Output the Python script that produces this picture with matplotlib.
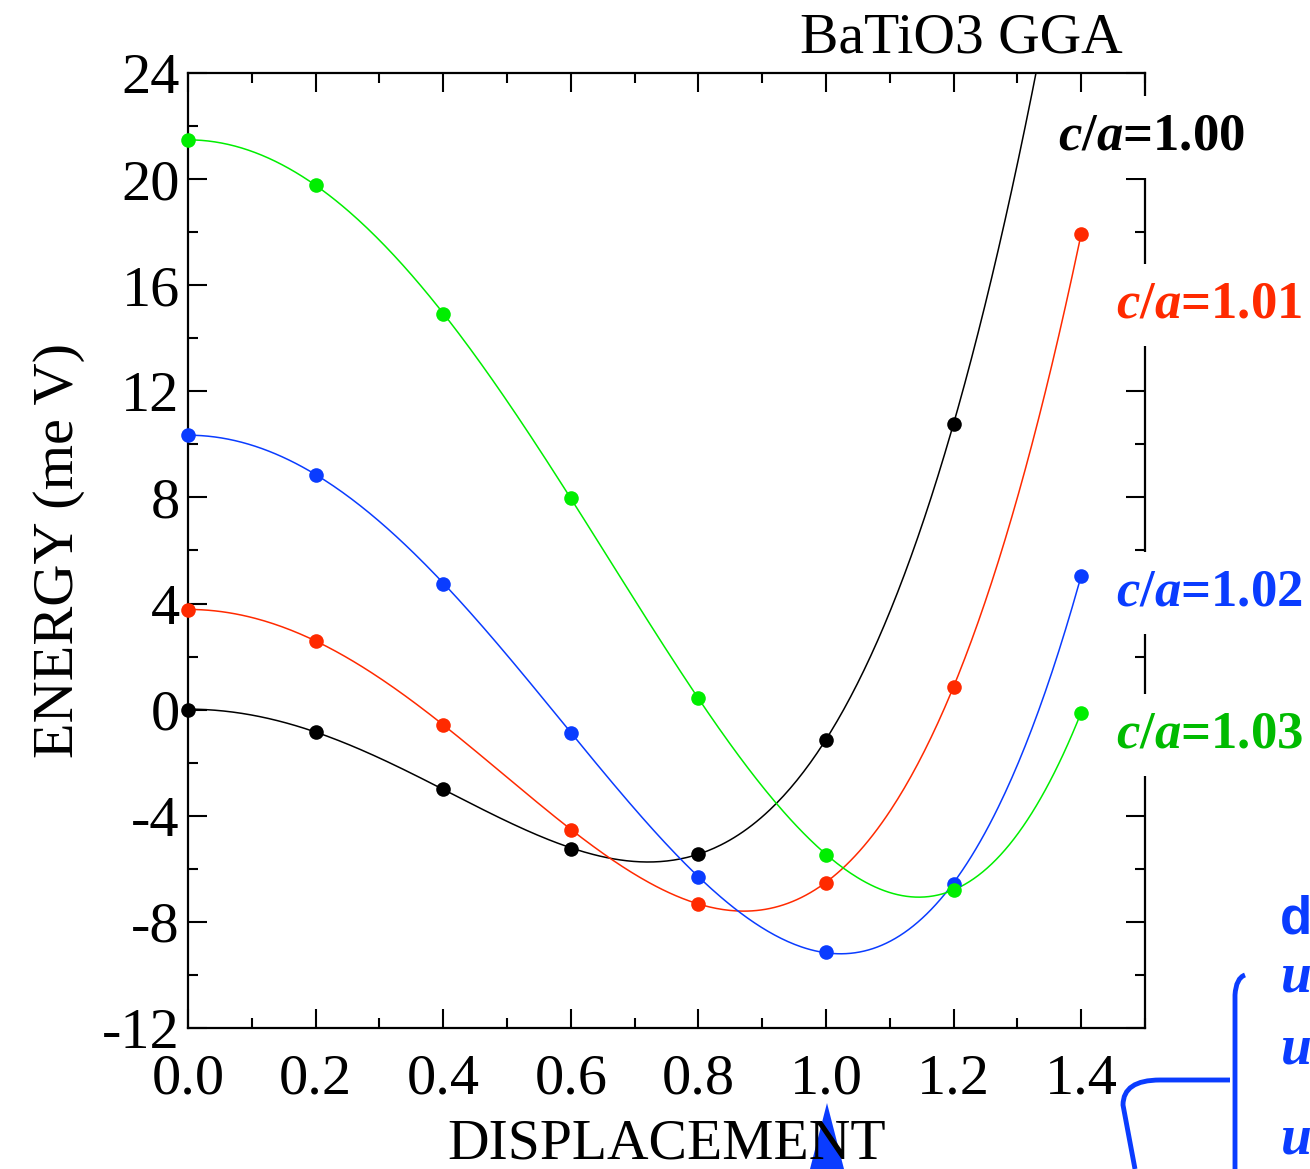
import numpy as np
import matplotlib
matplotlib.use("Agg")
import matplotlib.pyplot as plt
from matplotlib.ticker import MultipleLocator
from matplotlib.patches import Polygon
from matplotlib.path import Path
from matplotlib.patches import PathPatch

# Datos (desplazamiento, energia en meV)
desplazamiento = [0.0, 0.2, 0.4, 0.6, 0.8, 1.0, 1.2, 1.4]
energia_100 = [0.0, -0.83, -2.98, -5.24, -5.43, -1.13, 10.78]
energia_101 = [3.77, 2.60, -0.57, -4.52, -7.31, -6.52, 0.87, 17.93]
energia_102 = [10.37, 8.86, 4.75, -0.87, -6.30, -9.12, -6.56, 5.05]
energia_103 = [21.49, 19.76, 14.93, 7.96, 0.45, -5.47, -6.79, -0.11]

etiquetas = ["c/a=1.00", "c/a=1.01", "c/a=1.02", "c/a=1.03"]
colores_linea = ["black", "#ff2a00", "#0a3cff", "#00ee00"]
colores_texto = ["black", "#ff2a00", "#0a3cff", "#00bb00"]

plt.rcParams['font.family'] = ['Liberation Serif', 'DejaVu Serif']
plt.rcParams['axes.unicode_minus'] = False
plt.rcParams['mathtext.fontset'] = 'custom'
plt.rcParams['mathtext.it'] = 'Liberation Serif:italic:bold'
plt.rcParams['mathtext.bf'] = 'Liberation Serif:bold'
plt.rcParams['mathtext.rm'] = 'Liberation Serif:bold'


def ajuste_par(x, y):
    # Ajuste polinomial en potencias pares (pozo doble)
    x = np.asarray(x)
    A = np.vstack([x ** 0, x ** 2, x ** 4, x ** 6]).T
    coef, *_ = np.linalg.lstsq(A, np.asarray(y), rcond=None)
    xx = np.linspace(0, 1.4, 400)
    yy = coef[0] + coef[1] * xx ** 2 + coef[2] * xx ** 4 + coef[3] * xx ** 6
    return xx, yy


fig = plt.figure(figsize=(13.10, 11.69), dpi=100)
ax = fig.add_axes([0.1435, 0.1206, 0.874 - 0.1435, 0.9376 - 0.1206])

series = [energia_100, energia_101, energia_102, energia_103]
for e, cl in zip(series, colores_linea):
    x = desplazamiento[:len(e)]
    xx, yy = ajuste_par(x, e)
    ax.plot(xx, yy, color=cl, lw=1.1, zorder=2)
    ax.plot(x, e, 'o', color=cl, ms=10.5, mec='none', zorder=3, clip_on=False)

ax.set_xlim(0, 1.5)
ax.set_ylim(-12, 24)
ax.xaxis.set_major_locator(MultipleLocator(0.2))
ax.xaxis.set_minor_locator(MultipleLocator(0.1))
ax.yaxis.set_major_locator(MultipleLocator(4))
ax.yaxis.set_minor_locator(MultipleLocator(2))
ax.set_xticks(np.arange(0, 1.41, 0.2))
ax.set_xticklabels(["%.1f" % v for v in np.arange(0, 1.41, 0.2)])
ax.tick_params(which='both', direction='in', top=True, right=True, width=1.5, labelsize=42)
ax.tick_params(which='major', length=14)
ax.tick_params(which='minor', length=7)
ax.tick_params(axis='x', pad=18)
ax.tick_params(axis='y', pad=6)
for s in ax.spines.values():
    s.set_linewidth(1.6)

ax.set_xlabel("DISPLACEMENT", fontsize=41.5, labelpad=10)
ax.set_ylabel("ENERGY (me V)", fontsize=42, labelpad=12)

fig.text(0.857, 0.967, "BaTiO3 GGA", fontsize=41.5, ha='right', va='center')

# Etiquetas con fondo blanco que tapan el eje derecho
pos_etiquetas = [(1058, 137), (1116, 305), (1116, 593), (1116, 735)]
for (px, py), txt, ct in zip(pos_etiquetas, etiquetas, colores_texto):
    fig.text(px / 1310, 1 - py / 1169, r"$c/a$=1." + txt[-2:], fontsize=38,
             fontweight='bold', color=ct, ha='left', va='center',
             bbox=dict(facecolor='white', edgecolor='none', pad=12), zorder=5)

# Anotacion azul recortada en la esquina inferior derecha
azul = "#0a3cff"
fig.text(1280 / 1310, 1 - 920 / 1169, "d", fontsize=38, fontweight='bold',
         color=azul, family='Liberation Sans', ha='left', va='center')
for py in [978, 1050, 1140]:
    fig.text(1281 / 1310, 1 - py / 1169, "u", fontsize=40, fontweight='bold',
             style='italic', color=azul, ha='left', va='center')

verts = [(1245, 975), (1236, 978), (1235, 995), (1235, 1169)]
codes = [Path.MOVETO, Path.CURVE3, Path.CURVE3, Path.LINETO]
vx = [(a / 1310, 1 - b / 1169) for a, b in verts]
fig.add_artist(PathPatch(Path(vx, codes), fc='none', ec=azul, lw=3.5,
                         transform=fig.transFigure))
verts2 = [(1230, 1080), (1160, 1080), (1123, 1080), (1123, 1105), (1135, 1169)]
codes2 = [Path.MOVETO, Path.LINETO, Path.CURVE3, Path.CURVE3, Path.LINETO]
vx2 = [(a / 1310, 1 - b / 1169) for a, b in verts2]
fig.add_artist(PathPatch(Path(vx2, codes2), fc='none', ec=azul, lw=3.5,
                         transform=fig.transFigure))

tri = [(827, 1103), (810, 1169), (844, 1169)]
fig.add_artist(Polygon([(a / 1310, 1 - b / 1169) for a, b in tri], closed=True,
                       fc=azul, ec='none', transform=fig.transFigure, zorder=-1))

fig.savefig("out.png", dpi=100)
plt.close(fig)
